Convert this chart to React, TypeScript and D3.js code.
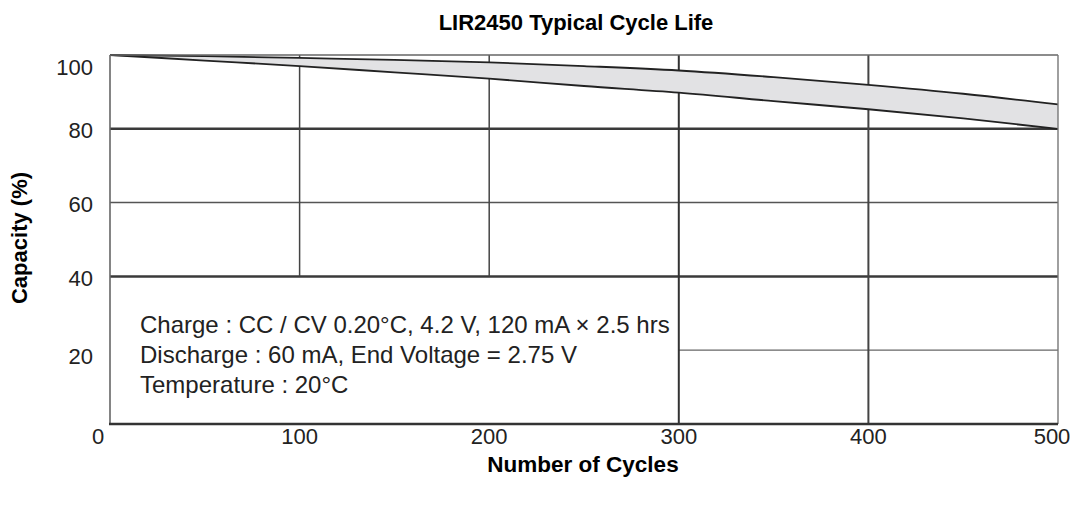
import React from "react";
import * as d3 from "d3";

const cycles = [0, 50, 100, 150, 200, 250, 300, 350, 400, 450, 500];
const upperCapacity = [100, 99.7, 99.2, 98.7, 98, 97, 95.8, 94, 91.9, 89.5, 86.6];
const lowerCapacity = [100, 98.5, 97, 95.3, 93.6, 91.6, 89.8, 87.5, 85.3, 82.8, 80];
const xTicks = [0, 100, 200, 300, 400, 500];
const yTicks = [20, 40, 60, 80, 100];
const noteLines = [
  "Charge : CC / CV 0.20°C, 4.2 V, 120 mA × 2.5 hrs",
  "Discharge : 60 mA, End Voltage = 2.75 V",
  "Temperature : 20°C",
];
const title = "LIR2450 Typical Cycle Life";
const xTitle = "Number of Cycles";
const yTitle = "Capacity (%)";

const W = 1076;
const H = 506;
const FONT = "'Liberation Sans', Arial, sans-serif";

export default function App() {
  const x = d3.scaleLinear().domain([0, 500]).range([110, 1058]);
  const y = d3.scaleLinear().domain([0, 100]).range([424, 55]);

  const pts = cycles.map((c, i) => ({ c, u: upperCapacity[i], l: lowerCapacity[i] }));
  const area = d3
    .area<any>()
    .x((d) => x(d.c))
    .y0((d) => y(d.l))
    .y1((d) => y(d.u))
    .curve(d3.curveMonotoneX);
  const upperLine = d3.line<any>().x((d) => x(d.c)).y((d) => y(d.u)).curve(d3.curveMonotoneX);
  const lowerLine = d3.line<any>().x((d) => x(d.c)).y((d) => y(d.l)).curve(d3.curveMonotoneX);

  const gridColor = "#3a3a3a";
  const xLabelOffset = (v: number) => (v === 0 ? -12 : v === 500 ? -6 : 0);
  const yLabelOffset = (v: number) => (v === 100 ? 12 : v === 20 ? 6 : 2);

  return (
    <svg width={W} height={H} style={{ position: "absolute", left: 0, top: 0, background: "#fff" }}>
      <rect x={0} y={0} width={W} height={H} fill="#fff" />
      {/* horizontal grid */}
      <line x1={x(0)} x2={x(500)} y1={y(80)} y2={y(80)} stroke={gridColor} strokeWidth={2.5} />
      <line x1={x(0)} x2={x(500)} y1={y(60)} y2={y(60)} stroke="#555" strokeWidth={1.5} />
      <line x1={x(0)} x2={x(500)} y1={y(40)} y2={y(40)} stroke={gridColor} strokeWidth={2.5} />
      <line x1={x(300)} x2={x(500)} y1={y(20)} y2={y(20)} stroke="#666" strokeWidth={1.2} />
      {/* vertical grid */}
      <line x1={x(100)} x2={x(100)} y1={y(40)} y2={y(100)} stroke="#444" strokeWidth={1.5} />
      <line x1={x(200)} x2={x(200)} y1={y(40)} y2={y(100)} stroke="#444" strokeWidth={1.5} />
      <line x1={x(300)} x2={x(300)} y1={y(0)} y2={y(100)} stroke="#333" strokeWidth={2} />
      <line x1={x(400)} x2={x(400)} y1={y(0)} y2={y(100)} stroke="#444" strokeWidth={2} />
      {/* band */}
      <path d={area(pts) || ""} fill="#e2e2e4" />
      <path d={upperLine(pts) || ""} fill="none" stroke="#222" strokeWidth={1.8} />
      <path d={lowerLine(pts) || ""} fill="none" stroke="#222" strokeWidth={1.8} />
      {/* frame */}
      <line x1={x(0)} x2={x(500)} y1={y(100)} y2={y(100)} stroke="#666" strokeWidth={1.6} />
      <line x1={x(0)} x2={x(0)} y1={y(100)} y2={y(0)} stroke="#666" strokeWidth={1.6} />
      <line x1={x(500)} x2={x(500)} y1={y(100)} y2={y(0)} stroke="#777" strokeWidth={1.4} />
      <line x1={x(0) - 1} x2={x(500)} y1={y(0)} y2={y(0)} stroke="#333" strokeWidth={2.5} />
      {/* note box text */}
      {noteLines.map((t, i) => (
        <text key={i} x={x(0) + 30} y={333 + i * 30} fontFamily={FONT} fontSize={24} fill="#222">
          {t}
        </text>
      ))}
      {/* x tick labels */}
      {xTicks.map((v) => (
        <text
          key={v}
          x={x(v) + xLabelOffset(v)}
          y={y(0) + 12}
          textAnchor="middle"
          dominantBaseline="central"
          fontFamily={FONT}
          fontSize={22}
          fill="#222"
        >
          {v}
        </text>
      ))}
      {/* y tick labels */}
      {yTicks.map((v) => (
        <text
          key={v}
          x={93}
          y={y(v) + yLabelOffset(v)}
          textAnchor="end"
          dominantBaseline="central"
          fontFamily={FONT}
          fontSize={22}
          fill="#222"
        >
          {v}
        </text>
      ))}
      <text x={576} y={22} textAnchor="middle" dominantBaseline="central" fontFamily={FONT} fontWeight="bold" fontSize={22} fill="#000">
        {title}
      </text>
      <text x={583} y={y(0) + 40} textAnchor="middle" dominantBaseline="central" fontFamily={FONT} fontWeight="bold" fontSize={22.5} fill="#000">
        {xTitle}
      </text>
      <text
        transform={`translate(19, 238) rotate(-90)`}
        textAnchor="middle"
        dominantBaseline="central"
        fontFamily={FONT}
        fontWeight="bold"
        fontSize={22}
        fill="#000"
      >
        {yTitle}
      </text>
    </svg>
  );
}
